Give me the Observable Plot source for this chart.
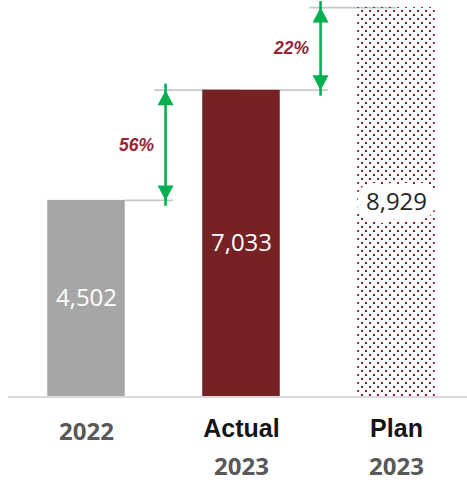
<!DOCTYPE html>
<html>
<head>
<meta charset="utf-8">
<script src="https://cdn.jsdelivr.net/npm/d3@7"></script>
<script src="https://cdn.jsdelivr.net/npm/@observablehq/plot@0.6"></script>
<style>
  html, body { margin: 0; padding: 0; background: #fff; }
  #chart svg { display: block; }
</style>
</head>
<body>
<div id="chart"></div>
<script>
// ---- data ----
const categories = ["2022", "Actual", "Plan"];
const values = [4502, 7033, 8929];
const kindLabels = [null, "Actual", "Plan"];
const yearLabels = ["2022", "2023", "2023"];
const growthLabels = ["56%", "22%"];
const barFills = ["#a6a6a6", "#762124", "url(#dots)"];

// ---- derived tables ----
const bars = categories.map((c, i) => ({cat: c, i, value: values[i], fill: barFills[i]}));
const steps = growthLabels.map((g, i) => ({i, from: values[i], to: values[i + 1], label: g, mid: (values[i] + values[i + 1]) / 2}));

const green = "#00b050";
const upHead = {draw(ctx) { ctx.moveTo(0, 0); ctx.lineTo(8, 15); ctx.lineTo(-8, 15); ctx.closePath(); }};
const downHead = {draw(ctx) { ctx.moveTo(0, 0); ctx.lineTo(8, -15); ctx.lineTo(-8, -15); ctx.closePath(); }};
const fmt = d3.format(",");

const chart = Plot.plot({
  width: 467,
  height: 482,
  marginTop: 4,
  marginBottom: 86,
  marginLeft: 8,
  marginRight: 0,
  x: {type: "linear", domain: [-0.5, 2.5], range: [8.5, 473.5], axis: null},
  y: {domain: [0, 9000], axis: null},
  color: {type: "identity"},
  marks: [
    // reference lines
    Plot.ruleY(steps, {y: "from", x1: d => d.i + 0.25, x2: d => d.i + 0.56, stroke: "#c8c8c8", strokeWidth: 1.6}),
    Plot.ruleY(steps, {y: "to", x1: d => d.i + 0.44, x2: d => d.i + 1, stroke: "#c8c8c8", strokeWidth: 1.6}),
    // bars
    Plot.rectY(bars, {x1: d => d.i - 0.25, x2: d => d.i + 0.25, y: "value", fill: "fill"}),
    // axis baseline
    Plot.ruleY([0], {stroke: "#d9d9d9", strokeWidth: 2, dy: 0.5}),
    // arrows
    Plot.ruleX(steps, {x: d => d.i + 0.51, y1: "from", y2: "to", stroke: green, strokeWidth: 2.6, insetTop: 6, insetBottom: 6}),
    Plot.dot(steps, {x: d => d.i + 0.51, y: "to", symbol: upHead, fill: green}),
    Plot.dot(steps, {x: d => d.i + 0.51, y: "from", symbol: downHead, fill: green}),
    // growth labels
    Plot.text(steps, {x: d => d.i + 0.51, y: "mid", text: "label", dx: -29, fill: "#952434",
      fontFamily: "Liberation Sans, Arial, sans-serif", fontWeight: "bold", fontStyle: "italic", fontSize: 17.5}),
    // value labels
    Plot.text(bars.filter(d => d.i < 2), {x: "i", y: d => d.value / 2, text: d => fmt(d.value), fill: "white",
      fontFamily: "Open Sans, sans-serif", fontSize: 24}),
    Plot.text(bars.filter(d => d.i === 2), {x: "i", y: d => d.value / 2, text: d => fmt(d.value), fill: "#262626",
      stroke: "white", strokeWidth: 20, strokeLinejoin: "round", fontFamily: "Open Sans, sans-serif", fontSize: 24}),
    // category labels
    Plot.text(bars.filter(d => kindLabels[d.i]), {x: "i", y: 0, text: d => kindLabels[d.i], dy: 32, fill: "#141414",
      fontFamily: "Liberation Sans, Arial, sans-serif", fontWeight: "bold", fontSize: 25}),
    Plot.text(bars.filter(d => !kindLabels[d.i]), {x: "i", y: 0, text: d => yearLabels[d.i], dy: 36, fill: "#595959",
      fontFamily: "Open Sans, sans-serif", fontWeight: "bold", fontSize: 24}),
    Plot.text(bars.filter(d => kindLabels[d.i]), {x: "i", y: 0, text: d => yearLabels[d.i], dy: 71, fill: "#595959",
      fontFamily: "Open Sans, sans-serif", fontWeight: "bold", fontSize: 24})
  ]
});

// dotted pattern for the plan bar
const defs = d3.select(chart).insert("defs", ":first-child");
const pat = defs.append("pattern").attr("id", "dots").attr("patternUnits", "userSpaceOnUse")
  .attr("x", 5).attr("y", 6).attr("width", 8).attr("height", 8);
pat.append("rect").attr("x", 0).attr("y", 0).attr("width", 2).attr("height", 2).attr("fill", "#8e1c24");
pat.append("rect").attr("x", 4).attr("y", 4).attr("width", 2).attr("height", 2).attr("fill", "#8e1c24");

document.getElementById("chart").appendChild(chart);
</script>
</body>
</html>
